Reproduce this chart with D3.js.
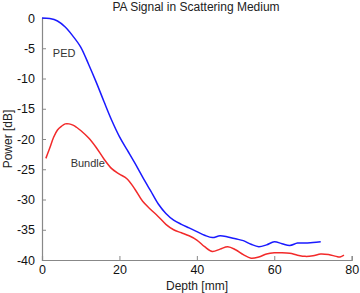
<!DOCTYPE html>
<html>
<head>
<meta charset="utf-8">
<script src="https://cdn.jsdelivr.net/npm/d3@7"></script>
<style>
  body { margin: 0; background: #fff; }
  svg text { font-family: "Liberation Sans", Arial, sans-serif; }
</style>
</head>
<body>
<div id="chart"></div>
<script>
// series
const pedDepth = [0, 2, 4, 6, 8, 10, 12, 14, 16, 18, 20, 22, 24, 26, 28, 30, 32, 34, 36, 38, 40, 42, 44, 46, 48, 50, 52, 54, 56, 58, 60, 62, 64, 66, 68, 70, 72];
const pedPower = [0, -0.1, -0.5, -1.5, -3, -4.8, -7.6, -10.6, -13.8, -16.9, -19.6, -21.8, -24.0, -26.3, -28.5, -30.7, -32.3, -33.4, -34.1, -34.7, -35.3, -35.9, -36.3, -36.0, -36.2, -36.5, -36.8, -37.4, -37.8, -37.5, -37.0, -37.3, -37.6, -37.2, -37.2, -37.1, -37.0];

const bundleDepth = [1, 2, 3, 4, 5, 6, 7, 8, 9, 10, 12, 14, 16, 18, 20, 22, 24, 26, 28, 30, 32, 34, 36, 38, 40, 42, 44, 46, 48, 50, 52, 54, 56, 58, 60, 62, 64, 66, 68, 70, 72, 74, 76, 77, 78];
const bundlePower = [-23.2, -21.5, -19.7, -18.5, -17.9, -17.5, -17.5, -17.7, -18.1, -18.6, -19.8, -21.4, -23.3, -24.9, -25.8, -26.6, -28.3, -30.3, -31.6, -32.8, -34.1, -35.0, -35.5, -36.0, -36.7, -37.8, -38.6, -38.2, -37.8, -38.3, -39.1, -39.7, -39.5, -39.0, -38.8, -38.8, -38.9, -39.2, -39.4, -39.3, -39.0, -39.1, -39.4, -39.5, -39.2];

const xTicks = [0, 20, 40, 60, 80];
const yTicks = [0, -5, -10, -15, -20, -25, -30, -35, -40];

const w = 360;
const h = 293;

const xScale = d3.scaleLinear().domain([0, 80]).range([42, 351.7]);
const yScale = d3.scaleLinear().domain([-40, 0]).range([260, 18]);

const svg = d3.select('#chart')
              .append('svg')
              .attr('width', w)
              .attr('height', h);

// axes, matlab style: ticks pointing in
const xAxis = d3.axisBottom(xScale).tickValues(xTicks).tickSize(-4).tickPadding(5).tickFormat(d3.format('d'));
const yAxis = d3.axisLeft(yScale).tickValues(yTicks).tickSize(-4).tickPadding(7).tickFormat(d => d);

const gx = svg.append('g')
   .attr('transform', 'translate(0,' + yScale(-40) + ')')
   .call(xAxis);
const gy = svg.append('g')
   .attr('transform', 'translate(' + xScale(0) + ',0)')
   .call(yAxis);

[gx, gy].forEach(g => {
  g.select('.domain').attr('stroke', '#888').attr('stroke-width', 1.2);
  g.selectAll('.tick line').attr('stroke', '#888');
  g.selectAll('.tick text')
   .attr('fill', '#111')
   .style('font-size', '12.5px')
   .style('font-family', '"Liberation Sans", Arial, sans-serif');
});

const line = d3.line()
  .x(d => xScale(d[0]))
  .y(d => yScale(d[1]))
  .curve(d3.curveCatmullRom);

svg.append('path')
   .datum(d3.zip(pedDepth, pedPower))
   .attr('d', line)
   .attr('fill', 'none')
   .attr('stroke', '#1a1aff')
   .attr('stroke-width', 1.5);

svg.append('path')
   .datum(d3.zip(bundleDepth, bundlePower))
   .attr('d', line)
   .attr('fill', 'none')
   .attr('stroke', '#f22a2a')
   .attr('stroke-width', 1.5);

// in-plot labels
svg.append('text')
   .attr('x', xScale(2.8))
   .attr('y', yScale(-6.4))
   .attr('fill', '#333')
   .style('font-size', '11px')
   .text('PED');

svg.append('text')
   .attr('x', xScale(7.4))
   .attr('y', yScale(-24.7))
   .attr('fill', '#333')
   .style('font-size', '11px')
   .text('Bundle');

// title and axis labels
svg.append('text')
   .attr('x', 196)
   .attr('y', 11)
   .attr('text-anchor', 'middle')
   .attr('fill', '#222')
   .style('font-size', '12px')
   .text('PA Signal in Scattering Medium');

svg.append('text')
   .attr('x', 197)
   .attr('y', 290)
   .attr('text-anchor', 'middle')
   .attr('fill', '#222')
   .style('font-size', '12px')
   .text('Depth [mm]');

svg.append('text')
   .attr('transform', 'translate(12,139) rotate(-90)')
   .attr('text-anchor', 'middle')
   .attr('fill', '#222')
   .style('font-size', '12px')
   .text('Power [dB]');
</script>
</body>
</html>
